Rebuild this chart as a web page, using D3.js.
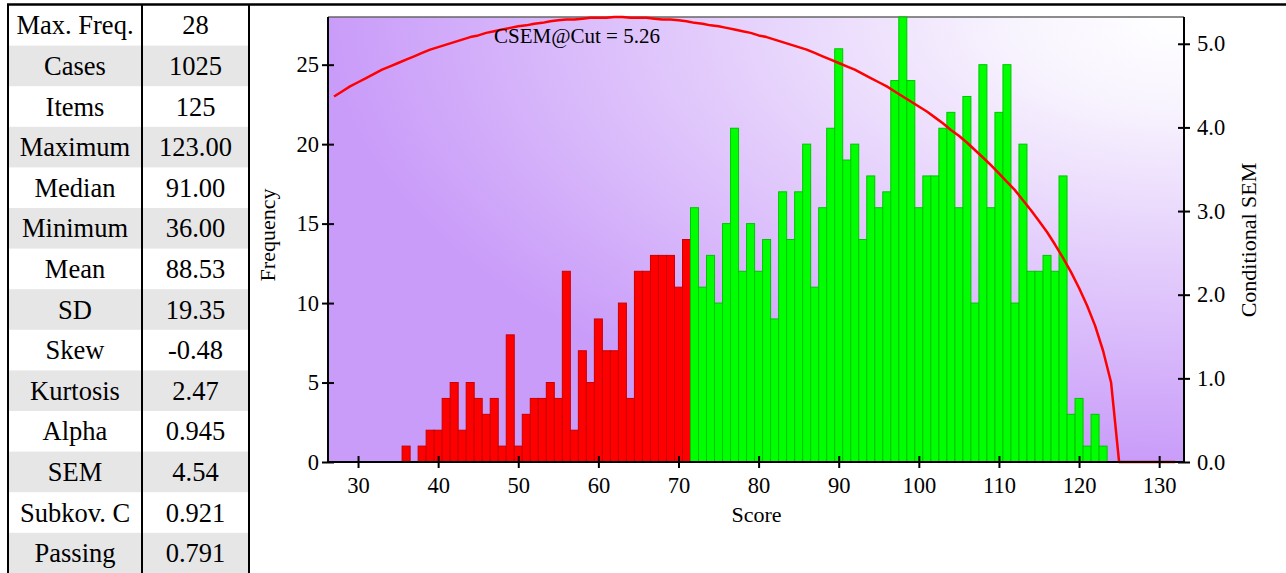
<!DOCTYPE html>
<html>
<head>
<meta charset="utf-8">
<script src="https://cdn.jsdelivr.net/npm/d3@7"></script>
<style>
  html, body { margin: 0; padding: 0; background: #fff; }
  svg { display: block; }
  svg text { font-family: 'Liberation Serif', 'Times New Roman', Times, serif; fill: #000; }
</style>
</head>
<body>
<svg id="chart" width="1286" height="573"></svg>
<script>
// ---------- DATA ----------
const statLabels = ["Max. Freq.", "Cases", "Items", "Maximum", "Median", "Minimum", "Mean", "SD", "Skew", "Kurtosis", "Alpha", "SEM", "Subkov. C", "Passing"];
const statValues = ["28", "1025", "125", "123.00", "91.00", "36.00", "88.53", "19.35", "-0.48", "2.47", "0.945", "4.54", "0.921", "0.791"];

const scores = [36,37,38,39,40,41,42,43,44,45,46,47,48,49,50,51,52,53,54,55,56,57,58,59,60,61,62,63,64,65,66,67,68,69,70,71,
  72,73,74,75,76,77,78,79,80,81,82,83,84,85,86,87,88,89,90,91,92,93,94,95,96,97,98,99,100,101,102,103,104,105,106,107,108,109,110,
  111,112,113,114,115,116,117,118,119,120,121,122,123];
const frequencies = [1,0,1,2,2,4,5,2,5,4,3,4,1,8,1,3,4,4,5,4,12,2,7,5,9,7,7,10,4,12,12,13,13,13,11,14,
  16,11,13,10,15,21,12,15,12,14,9,17,14,17,20,11,16,21,26,19,20,14,18,16,17,24,28,24,16,18,18,21,22,16,23,10,25,16,22,
  25,10,20,12,12,13,12,18,3,4,1,3,1];
const cutScore = 71.5;

const csemScores = [27,28,29,30,31,32,33,34,35,36,37,38,39,40,41,42,43,44,45,46,47,48,49,50,51,52,53,54,55,56,57,58,59,60,
  61,62,63,64,65,66,67,68,69,70,71,72,73,74,75,76,77,78,79,80,81,82,83,84,85,86,87,88,89,90,91,92,93,94,95,96,97,98,99,100,
  101,102,103,104,105,106,107,108,109,110,111,112,113,114,115,116,117,118,119,120,121,122,123,124,125,132];
const csemValues = [4.37,4.43,4.49,4.54,4.59,4.64,4.69,4.73,4.77,4.81,4.85,4.89,4.93,4.96,4.99,5.02,5.05,5.08,5.10,5.13,5.15,5.17,5.19,5.21,5.22,5.24,5.25,5.27,5.28,5.29,5.29,5.30,5.31,5.31,
  5.31,5.32,5.32,5.31,5.31,5.31,5.30,5.29,5.29,5.28,5.27,5.25,5.24,5.22,5.21,5.19,5.17,5.15,5.13,5.10,5.08,5.05,5.02,4.99,4.96,4.93,4.89,4.85,4.81,4.77,4.73,4.69,4.64,4.59,4.54,4.49,4.43,4.37,4.31,4.25,
  4.19,4.12,4.05,3.97,3.90,3.82,3.73,3.64,3.55,3.45,3.35,3.25,3.13,3.01,2.88,2.75,2.60,2.44,2.27,2.08,1.87,1.63,1.33,0.95,0,0];
const csemAtCut = "5.26";

const xTicks = [30,40,50,60,70,80,90,100,110,120,130];
const yTicks = [0,5,10,15,20,25];
const y2Ticks = [0,1,2,3,4,5];

// ---------- LAYOUT ----------
const FONT = "'Liberation Serif', 'Times New Roman', Times, serif";
const svg = d3.select("#chart");
const plot = { left: 328, right: 1184, top: 17, bottom: 462 };

// ---------- TABLE ----------
const table = { left: 8, mid: 142, right: 249, top: 5, rowH: 40.6 };
const tg = svg.append("g");
statLabels.forEach((lab, i) => {
  const y0 = table.top + i * table.rowH;
  if (i % 2 === 1) {
    tg.append("rect").attr("x", table.left).attr("y", y0).attr("width", table.right - table.left)
      .attr("height", table.rowH).attr("fill", "#e6e6e6");
  }
  tg.append("text").attr("x", (table.left + table.mid) / 2).attr("y", y0 + table.rowH / 2 + 9)
    .attr("text-anchor", "middle").style("font-family", FONT).style("font-size", "26.5px").text(lab);
  tg.append("text").attr("x", (table.mid + table.right) / 2).attr("y", y0 + table.rowH / 2 + 9)
    .attr("text-anchor", "middle").style("font-family", FONT).style("font-size", "26.5px").text(statValues[i]);
});
[table.left, table.mid, table.right].forEach(x => {
  tg.append("line").attr("x1", x).attr("x2", x).attr("y1", table.top).attr("y2", 573)
    .attr("stroke", "#000").attr("stroke-width", 2);
});
svg.append("line").attr("x1", table.left - 1).attr("x2", 1286).attr("y1", 4.5).attr("y2", 4.5)
  .attr("stroke", "#000").attr("stroke-width", 2.5);

// ---------- SCALES ----------
const x = d3.scaleLinear().domain([26.25, 133.1]).range([plot.left, plot.right]);
const y = d3.scaleLinear().domain([0, d3.max(frequencies)]).range([plot.bottom, plot.top]);
const y2 = d3.scaleLinear().domain([0, d3.max(csemValues)]).range([plot.bottom, plot.top]);

// ---------- BACKGROUND ----------
const defs = svg.append("defs");
const grad = defs.append("radialGradient").attr("id", "bg")
  .attr("cx", "100%").attr("cy", "0%").attr("r", "100%").attr("fx", "100%").attr("fy", "0%");
grad.append("stop").attr("offset", "0%").attr("stop-color", "#ffffff");
grad.append("stop").attr("offset", "20%").attr("stop-color", "#f8f4fe");
grad.append("stop").attr("offset", "100%").attr("stop-color", "#c99cf9");
svg.append("rect").attr("x", plot.left).attr("y", plot.top)
  .attr("width", plot.right - plot.left).attr("height", plot.bottom - plot.top)
  .attr("fill", "url(#bg)");
svg.append("line").attr("x1", plot.left).attr("x2", plot.right).attr("y1", plot.top).attr("y2", plot.top)
  .attr("stroke", "#666").attr("stroke-width", 1.5);

// ---------- BARS ----------
const bars = scores.map((s, i) => ({ s, f: frequencies[i] }));
svg.append("g").selectAll("rect").data(bars).join("rect")
  .attr("x", d => x(d.s - 0.5))
  .attr("width", d => x(d.s + 0.5) - x(d.s - 0.5))
  .attr("y", d => y(d.f))
  .attr("height", d => y(0) - y(d.f))
  .attr("fill", d => d.s < cutScore ? "#ff0000" : "#00ff00")
  .attr("stroke", d => d.s < cutScore ? "#c80000" : "#00c400")
  .attr("stroke-width", 1);

// ---------- CSEM CURVE ----------
const csem = csemScores.map((s, i) => ({ s, v: csemValues[i] }));
svg.append("path").datum(csem)
  .attr("fill", "none").attr("stroke", "#ff0000").attr("stroke-width", 2.5)
  .attr("stroke-linejoin", "round")
  .attr("d", d3.line().x(d => x(d.s)).y(d => y2(d.v)));

svg.append("text").attr("x", 494).attr("y", 43).style("font-family", FONT).style("font-size", "21px")
  .text("CSEM@Cut = " + csemAtCut);

// ---------- AXES ----------
const ax = svg.append("g").attr("transform", `translate(0,${plot.bottom})`)
  .call(d3.axisBottom(x).tickValues(xTicks).tickFormat(d3.format("d")).tickSize(6).tickPadding(9));
ax.selectAll(".tick line").attr("y1", -6).attr("y2", 6);
ax.select(".domain").attr("d", `M${plot.left},0H${plot.right}`);

const ay = svg.append("g").attr("transform", `translate(${plot.left},0)`)
  .call(d3.axisLeft(y).tickValues(yTicks).tickFormat(d3.format("d")).tickSize(6).tickPadding(3));
ay.selectAll(".tick line").attr("x1", -6).attr("x2", 6);
ay.select(".domain").attr("d", `M0,${plot.top}V${plot.bottom}`);

const ay2 = svg.append("g").attr("transform", `translate(${plot.right},0)`)
  .call(d3.axisRight(y2).tickValues(y2Ticks).tickFormat(d3.format(".1f")).tickSize(6).tickPadding(7));
ay2.selectAll(".tick line").attr("x1", -6).attr("x2", 6);
ay2.select(".domain").attr("d", `M0,${plot.top}V${plot.bottom}`);

[ax, ay, ay2].forEach(g => {
  g.attr("font-family", null).attr("font-size", null);
  g.selectAll("text").style("font-family", FONT).style("font-size", "22.5px").attr("fill", "#000");
  g.selectAll("line, path").attr("stroke", "#000").attr("stroke-width", 2);
});

svg.append("text").attr("x", (x(30) + x(130)) / 2 - 2).attr("y", 522).attr("text-anchor", "middle")
  .style("font-family", FONT).style("font-size", "22px").text("Score");
svg.append("text").attr("transform", "translate(275,235) rotate(-90)").attr("text-anchor", "middle")
  .style("font-family", FONT).style("font-size", "22px").text("Frequency");
svg.append("text").attr("transform", "translate(1256,240) rotate(-90)").attr("text-anchor", "middle")
  .style("font-family", FONT).style("font-size", "22px").text("Conditional SEM");
</script>
</body>
</html>
